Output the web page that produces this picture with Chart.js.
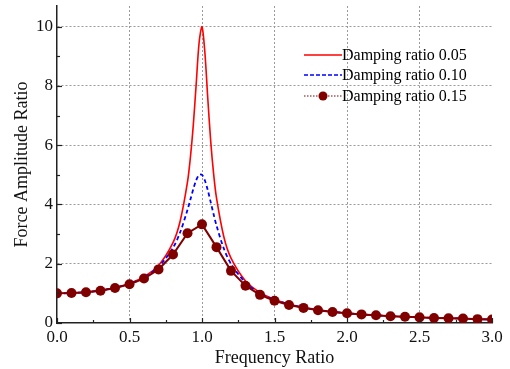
<!DOCTYPE html>
<html>
<head>
<meta charset="utf-8">
<script src="https://cdn.jsdelivr.net/npm/chart.js@4"></script>
<style>
  html, body { margin: 0; padding: 0; background: #fff; }
  #wrap { width: 510px; height: 369px; }
</style>
</head>
<body>
<div id="wrap"><canvas id="forceChart" width="510" height="369"></canvas></div>
<script>
// frequency ratio samples for the two smooth curves
const ratioFine = [0, 0.1, 0.2, 0.3, 0.4, 0.5, 0.6, 0.7, 0.8, 0.85, 0.9, 0.92, 0.94, 0.96, 0.98, 1.0,
    1.02, 1.04, 1.06, 1.08, 1.1, 1.15, 1.2, 1.3, 1.4, 1.5, 1.6, 1.7, 1.8, 1.9, 2.0,
    2.1, 2.2, 2.3, 2.4, 2.5, 2.6, 2.7, 2.8, 2.9, 3.0];
const damping005 = [1.00, 1.01, 1.04, 1.10, 1.19, 1.33, 1.56, 1.94, 2.71, 3.45, 4.76, 5.59, 6.68, 8.07, 9.46, 10.00,
    9.12, 7.57, 6.14, 5.04, 4.22, 2.92, 2.19, 1.42, 1.03, 0.79, 0.64, 0.53, 0.45, 0.38, 0.33,
    0.29, 0.26, 0.23, 0.21, 0.19, 0.17, 0.16, 0.15, 0.13, 0.12];
const damping010 = [1.00, 1.01, 1.04, 1.10, 1.19, 1.32, 1.54, 1.89, 2.54, 3.07, 3.82, 4.17, 4.52, 4.82, 5.00, 5.00,
    4.81, 4.48, 4.08, 3.67, 3.29, 2.52, 2.00, 1.36, 1.00, 0.78, 0.63, 0.52, 0.44, 0.38, 0.33,
    0.29, 0.26, 0.23, 0.21, 0.19, 0.17, 0.16, 0.15, 0.13, 0.12];

// marked curve, one point every 0.1
const ratioCoarse = [0, 0.1, 0.2, 0.3, 0.4, 0.5, 0.6, 0.7, 0.8, 0.9, 1.0, 1.1, 1.2, 1.3, 1.4, 1.5,
    1.6, 1.7, 1.8, 1.9, 2.0, 2.1, 2.2, 2.3, 2.4, 2.5, 2.6, 2.7, 2.8, 2.9, 3.0];
const damping015 = [1.00, 1.01, 1.04, 1.09, 1.18, 1.31, 1.50, 1.81, 2.31, 3.03, 3.33, 2.56, 1.76, 1.26, 0.95, 0.75,
    0.61, 0.51, 0.43, 0.37, 0.33, 0.29, 0.26, 0.23, 0.21, 0.19, 0.17, 0.16, 0.15, 0.13, 0.12];

const seriesNames = ['Damping ratio 0.05', 'Damping ratio 0.10', 'Damping ratio 0.15'];
const xTicks = [0, 0.5, 1.0, 1.5, 2.0, 2.5, 3.0];
const yTicks = [0, 2, 4, 6, 8, 10];

const serif = 'Liberation Serif, Times New Roman, serif';

function toPoints(xs, ys) {
    return xs.map((x, i) => ({ x: x, y: ys[i] }));
}

// small inward tick marks (major + minor) like the original plot
const innerTicks = {
    id: 'innerTicks',
    afterDatasetsDraw(chart) {
        const ctx = chart.ctx;
        const xs = chart.scales.x;
        const ys = chart.scales.y;
        const area = chart.chartArea;
        ctx.save();
        ctx.strokeStyle = '#222';
        ctx.lineWidth = 1.2;
        for (let v = 0; v <= 3.0001; v += 0.25) {
            const px = Math.round(xs.getPixelForValue(v)) + 0.5;
            const major = Math.abs(v * 2 - Math.round(v * 2)) < 1e-6;
            ctx.beginPath();
            ctx.moveTo(px, area.bottom);
            ctx.lineTo(px, area.bottom - (major ? 5 : 3));
            ctx.stroke();
        }
        for (let v = 0; v <= 10; v += 1) {
            const py = Math.round(ys.getPixelForValue(v)) + 0.5;
            const major = v % 2 === 0;
            ctx.beginPath();
            ctx.moveTo(area.left, py);
            ctx.lineTo(area.left + (major ? 5 : 3), py);
            ctx.stroke();
        }
        ctx.restore();
    }
};

// legend drawn inside the plot, top right
const insideLegend = {
    id: 'insideLegend',
    afterDraw(chart) {
        const ctx = chart.ctx;
        const x0 = 304, x1 = 342;
        const rows = [55, 75, 96];
        ctx.save();
        ctx.font = '16px ' + serif;
        ctx.textBaseline = 'middle';
        ctx.fillStyle = '#000';
        chart.data.datasets.forEach((ds, i) => {
            const y = rows[i];
            ctx.strokeStyle = ds.borderColor;
            ctx.lineWidth = i === 2 ? 1.2 : 1.6;
            ctx.setLineDash(i === 1 ? [4, 2] : i === 2 ? [1.5, 1.5] : []);
            ctx.beginPath();
            ctx.moveTo(x0, y);
            ctx.lineTo(x1, y);
            ctx.stroke();
            ctx.setLineDash([]);
            if (i === 2) {
                ctx.fillStyle = ds.backgroundColor;
                ctx.beginPath();
                ctx.arc((x0 + x1) / 2, y, 4.5, 0, Math.PI * 2);
                ctx.fill();
                ctx.fillStyle = '#000';
            }
            ctx.fillText(seriesNames[i], x1, y + 1);
        });
        ctx.restore();
    }
};

new Chart(document.getElementById('forceChart'), {
    type: 'scatter',
    data: {
        datasets: [
            {
                label: seriesNames[0],
                data: toPoints(ratioFine, damping005),
                showLine: true,
                borderColor: '#ff0000',
                backgroundColor: '#ff0000',
                borderWidth: 1.6,
                pointRadius: 0,
                tension: 0.3,
                order: 3
            },
            {
                label: seriesNames[1],
                data: toPoints(ratioFine, damping010),
                showLine: true,
                borderColor: '#0000ff',
                backgroundColor: '#0000ff',
                borderWidth: 1.8,
                borderDash: [4, 3],
                pointRadius: 0,
                tension: 0.3,
                order: 2
            },
            {
                label: seriesNames[2],
                data: toPoints(ratioCoarse, damping015),
                showLine: true,
                borderColor: '#800000',
                backgroundColor: '#800000',
                borderWidth: 2,
                pointRadius: 5,
                pointBorderWidth: 0,
                tension: 0,
                order: 1
            }
        ]
    },
    options: {
        responsive: false,
        animation: false,
        layout: { padding: { top: 6, right: 18, left: 0, bottom: 0 } },
        plugins: {
            legend: { display: false },
            tooltip: { enabled: false }
        },
        scales: {
            x: {
                type: 'linear',
                min: 0,
                max: 3,
                afterBuildTicks: (scale) => { scale.ticks = xTicks.map(v => ({ value: v })); },
                afterFit: (scale) => { scale.height = 46; scale.paddingLeft = 0; },
                ticks: {
                    callback: (v) => Number(v).toFixed(1),
                    font: { family: serif, size: 17 },
                    color: '#111',
                    padding: 4,
                    maxRotation: 0
                },
                grid: {
                    drawTicks: false,
                    color: (c) => (c.tick && (c.tick.value === 0 || c.tick.value === 3)) ? 'rgba(0,0,0,0)' : '#9a9a9a',
                    lineWidth: 1
                },
                border: { display: true, color: '#222', width: 1.5, dash: [2, 2] },
                title: {
                    display: true,
                    text: 'Frequency Ratio',
                    font: { family: serif, size: 18 },
                    color: '#111',
                    padding: { top: 0, bottom: 0 }
                }
            },
            y: {
                min: 0,
                max: 10.7,
                afterBuildTicks: (scale) => { scale.ticks = yTicks.map(v => ({ value: v })); },
                afterFit: (scale) => { scale.width = 57; scale.paddingTop = 0; scale.paddingBottom = 0; },
                ticks: {
                    font: { family: serif, size: 17 },
                    color: '#111',
                    padding: 4
                },
                grid: {
                    drawTicks: false,
                    color: (c) => (c.tick && c.tick.value === 0) ? 'rgba(0,0,0,0)' : '#9a9a9a',
                    lineWidth: 1
                },
                border: { display: true, color: '#222', width: 1.5, dash: [2, 2] },
                title: {
                    display: true,
                    text: 'Force Amplitude Ratio',
                    font: { family: serif, size: 18 },
                    color: '#111',
                    padding: { top: 11, bottom: 0 }
                }
            }
        }
    },
    plugins: [innerTicks, insideLegend]
});
</script>
</body>
</html>
